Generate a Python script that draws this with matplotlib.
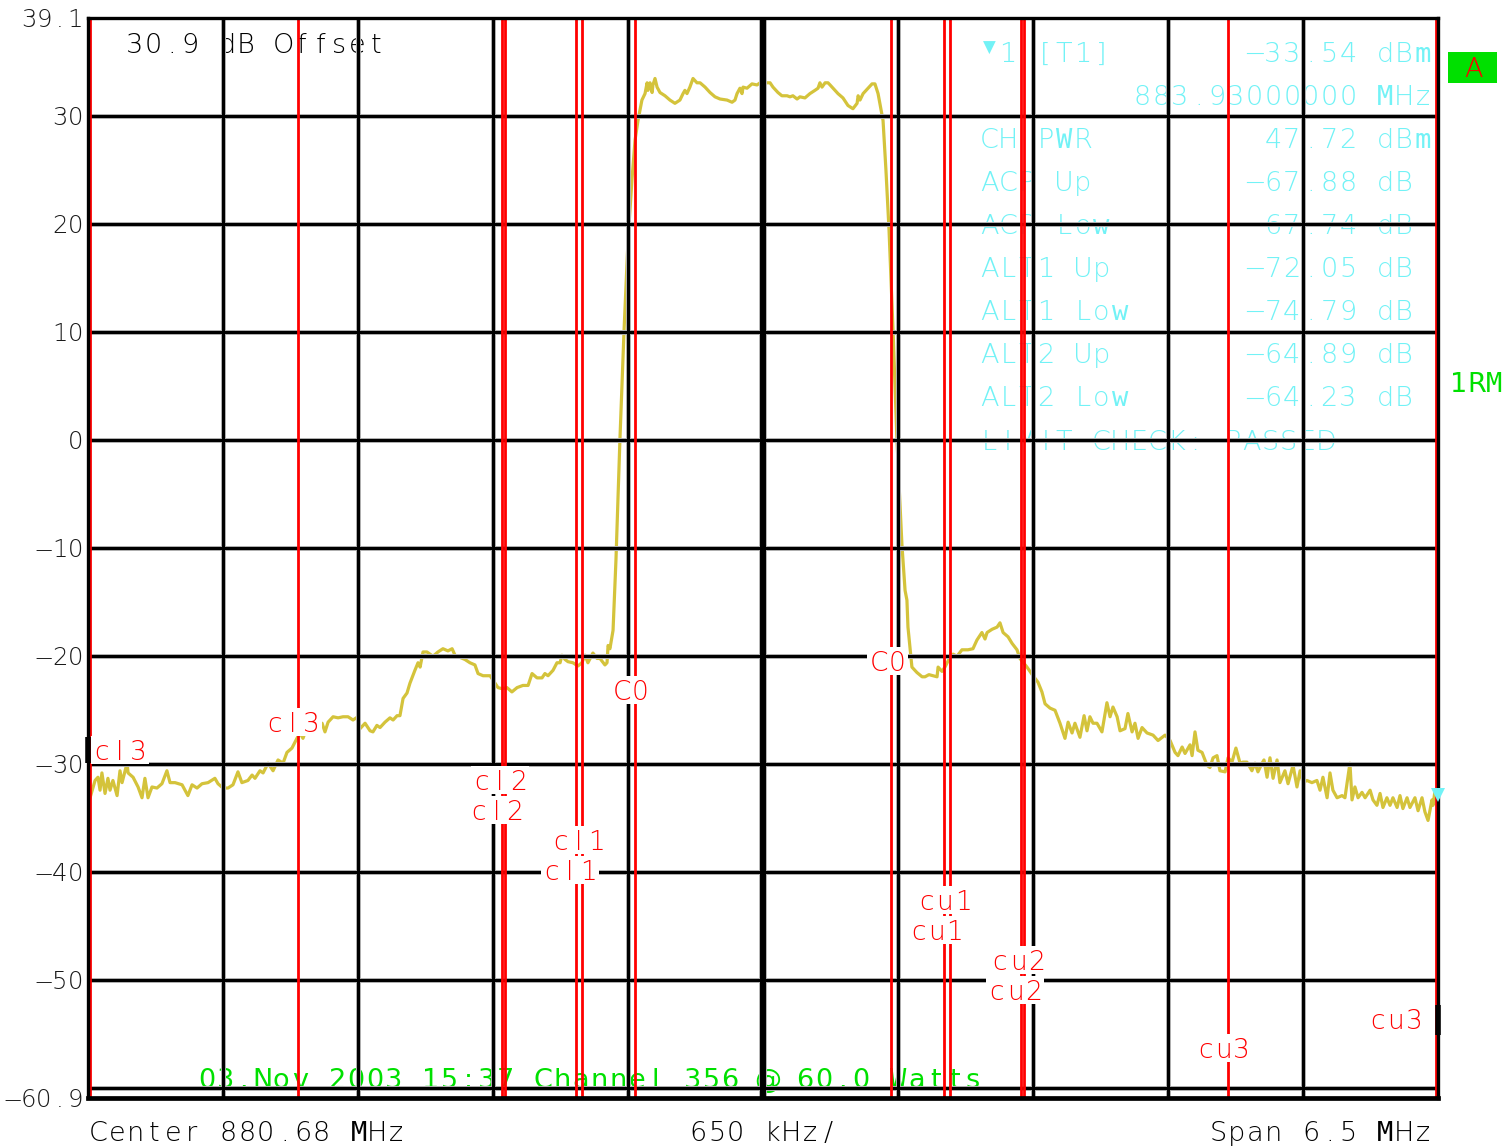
import matplotlib
matplotlib.use('Agg')
import matplotlib.pyplot as plt
from matplotlib.patches import Rectangle
from matplotlib.transforms import IdentityTransform, offset_copy

W, H = 1506, 1146

# --- data ---
center_mhz = 880.68
span_mhz = 6.5
ref_top = 39.1
ref_bottom = -60.9

freq = [
    877.440, 877.464, 877.478, 877.488, 877.497, 877.512, 877.526, 877.536, 877.550, 877.570,
    877.584, 877.594, 877.618, 877.623, 877.647, 877.671, 877.690, 877.704, 877.719, 877.738,
    877.762, 877.786, 877.810, 877.825, 877.849, 877.883, 877.911, 877.931, 877.955, 877.979,
    878.008, 878.041, 878.056, 878.080, 878.104, 878.128, 878.152, 878.171, 878.200, 878.220,
    878.234, 878.258, 878.273, 878.297, 878.321, 878.345, 878.369, 878.388, 878.412, 878.436,
    878.451, 878.465, 878.484, 878.509, 878.523, 878.537, 878.557, 878.571, 878.586, 878.610,
    878.634, 878.658, 878.682, 878.706, 878.730, 878.740, 878.764, 878.788, 878.802, 878.821,
    878.836, 878.860, 878.884, 878.899, 878.918, 878.932, 878.947, 878.966, 878.980, 879.004,
    879.019, 879.029, 879.043, 879.062, 879.091, 879.115, 879.139, 879.163, 879.183, 879.197,
    879.221, 879.245, 879.269, 879.293, 879.308, 879.332, 879.366, 879.380, 879.404, 879.423,
    879.447, 879.471, 879.496, 879.524, 879.549, 879.568, 879.592, 879.616, 879.630, 879.645,
    879.669, 879.688, 879.703, 879.712, 879.727, 879.741, 879.765, 879.789, 879.808, 879.823,
    879.837, 879.861, 879.881, 879.895, 879.919, 879.929, 879.934, 879.943, 879.958, 879.972,
    879.991, 880.011, 880.030, 880.049, 880.064, 880.078, 880.097, 880.112, 880.122, 880.126,
    880.136, 880.146, 880.150, 880.160, 880.170, 880.184, 880.208, 880.232, 880.256, 880.280,
    880.295, 880.304, 880.314, 880.328, 880.343, 880.362, 880.377, 880.401, 880.425, 880.449,
    880.473, 880.507, 880.531, 880.545, 880.555, 880.569, 880.579, 880.584, 880.603, 880.627,
    880.651, 880.666, 880.675, 880.680, 880.699, 880.714, 880.728, 880.752, 880.771, 880.796,
    880.810, 880.824, 880.844, 880.858, 880.882, 880.906, 880.930, 880.945, 880.954, 880.964,
    880.979, 880.993, 881.003, 881.017, 881.041, 881.065, 881.089, 881.113, 881.133, 881.138,
    881.147, 881.162, 881.186, 881.205, 881.219, 881.234, 881.258, 881.272, 881.287, 881.306,
    881.325, 881.349, 881.364, 881.373, 881.378, 881.397, 881.421, 881.446, 881.460, 881.479,
    881.499, 881.518, 881.523, 881.542, 881.556, 881.580, 881.595, 881.614, 881.638, 881.667,
    881.691, 881.710, 881.734, 881.749, 881.759, 881.783, 881.807, 881.821, 881.836, 881.860,
    881.879, 881.903, 881.917, 881.951, 881.980, 882.004, 882.023, 882.038, 882.062, 882.086,
    882.110, 882.134, 882.149, 882.168, 882.182, 882.206, 882.226, 882.240, 882.254, 882.269,
    882.288, 882.312, 882.336, 882.351, 882.365, 882.385, 882.399, 882.423, 882.437, 882.457,
    882.471, 882.486, 882.505, 882.529, 882.558, 882.582, 882.616, 882.640, 882.664, 882.678,
    882.698, 882.712, 882.736, 882.746, 882.760, 882.774, 882.794, 882.818, 882.832, 882.847,
    882.866, 882.880, 882.905, 882.919, 882.938, 882.957, 882.977, 882.991, 883.010, 883.034,
    883.049, 883.063, 883.083, 883.092, 883.107, 883.121, 883.136, 883.155, 883.169, 883.193,
    883.208, 883.232, 883.251, 883.266, 883.280, 883.299, 883.323, 883.347, 883.362, 883.376,
    883.396, 883.410, 883.424, 883.444, 883.468, 883.482, 883.506, 883.516, 883.530, 883.545,
    883.564, 883.579, 883.603, 883.617, 883.636, 883.651, 883.665, 883.684, 883.699, 883.713,
    883.733, 883.747, 883.761, 883.781, 883.795, 883.819, 883.834, 883.853, 883.867, 883.882,
    883.901, 883.906, 883.916,
]
level = [
    -33.1, -31.5, -31.2, -32.4, -30.8, -32.7, -31.3, -32.4, -31.5, -32.9,
    -30.6, -31.7, -29.9, -30.8, -31.2, -32.1, -33.1, -31.3, -33.1, -32.1,
    -32.2, -31.8, -30.6, -31.7, -31.7, -31.9, -32.9, -31.9, -32.2, -31.8,
    -31.7, -31.3, -31.8, -32.2, -32.2, -31.9, -30.7, -31.7, -31.5, -31.0,
    -31.3, -30.6, -30.8, -29.9, -30.6, -29.6, -29.9, -28.9, -28.5, -27.6,
    -27.1, -27.6, -26.6, -26.4, -25.9, -26.9, -26.2, -27.0, -26.1, -25.6,
    -25.7, -25.6, -25.6, -25.9, -25.6, -26.7, -26.2, -26.9, -27.0, -26.4,
    -26.6, -26.1, -25.7, -25.9, -25.5, -25.5, -23.9, -23.4, -22.5, -21.3,
    -20.6, -21.0, -19.6, -19.6, -20.0, -19.6, -19.3, -19.5, -19.3, -19.9,
    -20.1, -20.3, -20.6, -20.8, -21.6, -21.8, -21.8, -22.2, -22.9, -23.0,
    -22.9, -23.3, -22.9, -22.7, -22.7, -21.6, -22.0, -22.0, -21.6, -21.8,
    -21.3, -20.6, -20.6, -19.9, -20.3, -20.5, -20.6, -20.9, -20.6, -19.9,
    -20.6, -19.7, -20.2, -20.2, -20.8, -20.6, -19.0, -19.3, -17.6, -11.1,
    0.0, 10.2, 18.5, 24.1, 27.8, 29.6, 31.5, 32.1, 33.1, 32.4,
    33.1, 32.2, 32.9, 33.5, 32.7, 32.2, 31.9, 31.5, 31.2, 31.5,
    32.1, 32.4, 32.1, 32.7, 33.5, 33.1, 33.1, 32.7, 32.2, 31.8,
    31.6, 31.5, 31.3, 31.5, 32.1, 32.6, 32.1, 32.7, 32.6, 33.0,
    32.9, 33.1, 33.4, 33.1, 33.1, 33.1, 32.7, 32.2, 31.9, 31.9,
    31.8, 31.9, 31.6, 31.8, 31.7, 32.1, 32.4, 32.6, 33.1, 32.7,
    33.1, 33.1, 32.9, 32.6, 32.1, 31.7, 31.0, 30.7, 31.2, 31.9,
    31.5, 32.1, 32.6, 33.0, 33.0, 32.1, 29.6, 25.0, 19.4, 10.2,
    0.0, -9.7, -13.9, -14.8, -17.3, -21.0, -21.5, -21.9, -21.9, -21.7,
    -21.8, -21.9, -21.0, -21.4, -21.0, -20.1, -19.8, -20.0, -19.4, -19.4,
    -19.3, -18.5, -17.8, -18.4, -17.8, -17.5, -17.3, -16.9, -17.8, -18.2,
    -18.8, -19.4, -20.2, -21.0, -21.8, -22.4, -23.3, -24.4, -24.8, -25.0,
    -26.2, -27.6, -26.1, -27.1, -26.2, -27.5, -25.5, -26.9, -25.6, -26.2,
    -26.2, -27.0, -24.3, -25.6, -24.7, -25.6, -26.9, -26.7, -25.3, -27.0,
    -26.2, -27.6, -26.6, -27.1, -27.3, -27.8, -27.3, -27.8, -28.9, -29.2,
    -28.4, -29.0, -28.2, -29.2, -27.0, -28.7, -28.9, -30.1, -30.3, -29.4,
    -29.2, -30.6, -30.7, -29.4, -29.8, -28.5, -29.9, -29.8, -29.8, -30.6,
    -29.9, -30.7, -29.9, -29.6, -31.2, -29.4, -31.3, -29.6, -31.7, -30.6,
    -31.8, -30.1, -32.1, -30.6, -31.7, -31.5, -31.7, -31.5, -32.4, -31.2,
    -33.1, -30.8, -32.4, -33.1, -32.9, -33.1, -29.9, -33.3, -32.1, -33.1,
    -32.6, -33.1, -32.4, -33.3, -33.8, -32.7, -34.0, -33.1, -33.8, -33.1,
    -34.0, -32.9, -34.1, -33.1, -34.0, -33.1, -34.3, -33.1, -34.4, -35.2,
    -33.3, -33.8, -32.4,
]

# channel edges, MHz offset from center
chan_edges = [-3.24, -2.24, -1.2575, -1.2425, -0.900, -0.870, -0.6144,
              0.6144, 0.870, 0.900, 1.2425, 1.2575, 2.24, 3.24]
# label for each edge: text, shift from the line (px), row (px from top)
chan_labels = [('cl3', 30, 750), ('cl3', -5, 722), ('cl2', -5, 810), ('cl2', -5, 780),
               ('cl1', -6, 870), ('cl1', -4, 840), ('C0', -4, 690),
               ('C0', -3, 661), ('cu1', -7, 930), ('cu1', -5, 900), ('cu2', -6, 990),
               ('cu2', -6, 960), ('cu3', -5, 1048), ('cu3', -40, 1019)]

marker_freq = 883.93
marker_level = -33.54
meas_names = ['CH PWR', 'ACP Up', 'ACP Low', 'ALT1 Up', 'ALT1 Low', 'ALT2 Up', 'ALT2 Low']
meas_values = [' 47.72 dBm', '-67.88 dB', '-67.74 dB', '-72.05 dB', '-74.79 dB',
               '-64.89 dB', '-64.23 dB']
ytick_vals = [39.1, 30, 20, 10, 0, -10, -20, -30, -40, -50, -60.9]
ytick_text = ['39.1', '30', '20', '10', '0', '-10', '-20', '-30', '-40', '-50', '-60.9']

TRACE = '#d4c33b'
CYAN = '#72f2f6'
GREEN = '#00e000'
RED = '#ff0000'
FONT = ['DejaVu Sans']
NARROW = ['DejaVu Sans Mono', 'DejaVu Sans']
WIDE = 'MWmw'

fig = plt.figure(figsize=(W / 100, H / 100), dpi=100)
ax = fig.add_axes([88 / W, 1 - 1098 / H, 1350 / W, 1080 / H])
x_lo = center_mhz - span_mhz / 2
x_hi = center_mhz + span_mhz / 2
ax.set_xlim(x_lo, x_hi)
ax.set_ylim(ref_bottom, ref_top)
ax.set_autoscale_on(False)
ax.set_xticks([])
ax.set_yticks([])
for side in ['top', 'left', 'right']:
    ax.spines[side].set_linewidth(2.4)
ax.spines['bottom'].set_linewidth(3.4)


def mono(target, s, x, y, color, size=19.5, adv=18.7, ha='left', z=3, weight='light'):
    # instrument style text: every char in its own fixed cell, x/y in px from top-left
    n = len(s)
    x0 = {'left': x, 'right': x - n * adv, 'center': x - n * adv / 2}[ha]
    base = H - (y + 0.365 * size * 100 / 72)
    for i, ch in enumerate(s):
        if ch == ' ':
            continue
        if ch == '-':
            ch = '\u2212'
        fam, wt = FONT, weight
        if ch in WIDE:
            fam, wt = NARROW, 'normal'
        target.text(x0 + (i + 0.5) * adv, base, ch, color=color, fontsize=size,
                    family=fam, fontweight=wt, ha='center', va='baseline',
                    transform=IdentityTransform(), zorder=z, clip_on=False)
    return x0, x0 + n * adv


# grid
for k in range(1, 10):
    xv = x_lo + k * span_mhz / 10
    lw = 4.3 if k == 5 else 2.2
    ax.axvline(xv, color='#b4b4b4', lw=lw + 1.4, zorder=1.4)
    ax.axvline(xv, color='black', lw=lw, zorder=1.5)
for yv in range(-60, 31, 10):
    ax.axhline(yv, color='#b4b4b4', lw=3.6, zorder=1.4)
    ax.axhline(yv, color='black', lw=2.2, zorder=1.5)

# trace
ax.plot(freq, level, color=TRACE, lw=2.3, zorder=1.2, solid_joinstyle='round')

# channel boundaries
for e in chan_edges:
    ax.axvline(center_mhz + e, color=RED, lw=2.0, zorder=2)

# small markers on the frame
ax.plot([x_lo, x_lo], [-27.5, -29.9], color='black', lw=4, zorder=2.6, clip_on=False,
        solid_capstyle='butt')
ax.plot([x_hi, x_hi], [-52.3, -55.1], color='black', lw=4, zorder=2.6, clip_on=False,
        solid_capstyle='butt')

# channel labels with white background
for e, (txt, dx, row) in zip(chan_edges, chan_labels):
    px = ax.transData.transform((center_mhz + e, 0))[0] + dx
    xa, xb = mono(ax, txt, px, row, RED, size=19, adv=18.2, ha='center', z=3.5)
    ax.add_patch(Rectangle((xa - 2, H - row - 14), xb - xa + 4, 28, facecolor='white',
                           edgecolor='none', transform=IdentityTransform(),
                           zorder=3, clip_on=False))

# marker 1
mk_tr = offset_copy(ax.transData, fig=fig, x=0, y=8, units='dots')
ax.plot([marker_freq], [marker_level], marker='v', color=CYAN, ms=10, mew=0,
        transform=mk_tr, clip_on=False, zorder=3)

# y tick labels
for v, t in zip(ytick_vals, ytick_text):
    py = H - ax.transData.transform((x_lo, v))[1]
    mono(fig, t, 83, py, '#1a1a1a', size=17.5, adv=15.6, ha='right')

# texts on the screen
mono(ax, '30.9 dB Offset', 125, 43, 'black', adv=18.6, z=0.5)
mono(ax, '\u25bc', 980, 47, CYAN, size=12, z=0.5, weight='normal')
mono(ax, '1 [T1]', 980 + 18.7, 52, CYAN, z=0.5)
mono(ax, '%.2f dBm' % marker_level, 1245, 52, CYAN, z=0.5)
mono(ax, '%.8f MHz' % marker_freq, 1432, 95, CYAN, ha='right', z=0.5)
for i, (nm, val) in enumerate(zip(meas_names, meas_values)):
    row = 138 + i * 43.1
    mono(ax, nm, 980, row, CYAN, z=0.5)
    mono(ax, val, 1245, row, CYAN, z=0.5)
mono(ax, 'LIMIT CHECK: PASSED', 980, 440, CYAN, z=0.5)
mono(ax, '03.Nov 2003 15:37 Channel 356 @ 60.0 Watts', 197, 1078, GREEN, z=0.6,
     weight='normal')

# side and bottom annotations
fig.add_artist(Rectangle((1448, H - 83), 49, 31, facecolor=GREEN, edgecolor='none',
                         transform=IdentityTransform()))
mono(fig, 'A', 1473, 67, RED, ha='center')
mono(fig, '1RM', 1450, 382, GREEN, adv=17.5, weight='normal')
mono(fig, 'Center %.2f MHz' % center_mhz, 89, 1131, 'black', adv=18.6)
mono(fig, '%d kHz/' % round(span_mhz * 100), 763, 1131, 'black', adv=18.6, ha='center')
mono(fig, 'Span %.1f MHz' % span_mhz, 1432, 1131, 'black', adv=18.6, ha='right')

fig.savefig('out.png', dpi=100, facecolor='white')
